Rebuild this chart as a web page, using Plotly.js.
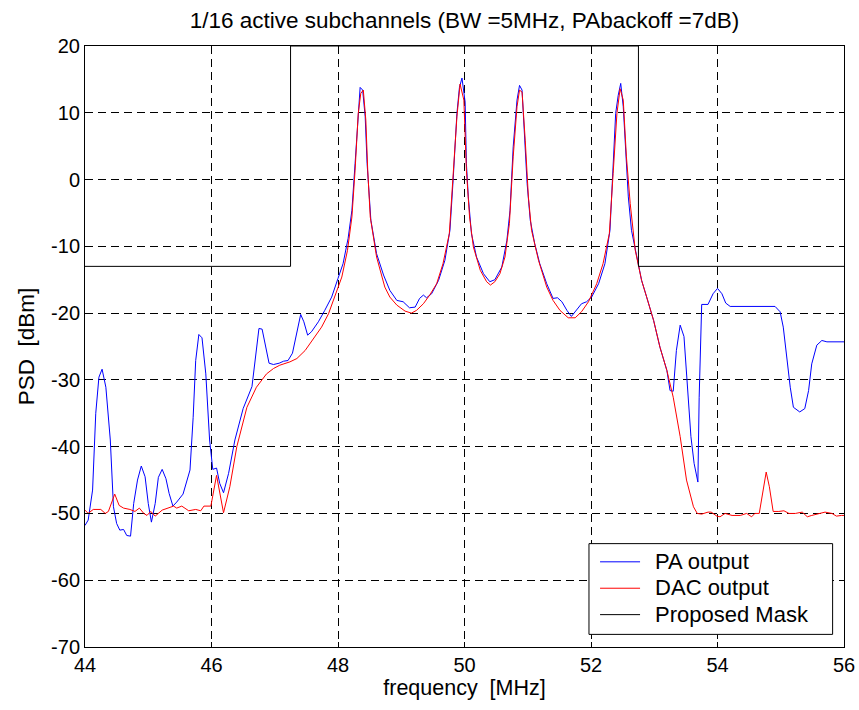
<!DOCTYPE html>
<html>
<head>
<meta charset="utf-8">
<script src="https://cdn.plot.ly/plotly-3.0.1.min.js"></script>
<style>
  html, body { margin: 0; padding: 0; background: #fff; }
  #chart { width: 859px; height: 710px; }
</style>
</head>
<body>
<div id="chart"></div>
<script>
// PA output spectrum (frequency in MHz, PSD in dBm)
const paFreq = [
  44.00, 44.05, 44.12, 44.17, 44.22, 44.27, 44.33, 44.40, 44.45, 44.50,
  44.55, 44.61, 44.66, 44.72, 44.77, 44.83, 44.89, 44.95, 45.00, 45.05,
  45.11, 45.16, 45.22, 45.28, 45.33, 45.39, 45.45, 45.55, 45.66, 45.71,
  45.75, 45.80, 45.85, 45.91, 45.97, 46.02, 46.08, 46.13, 46.19, 46.27,
  46.37, 46.50, 46.64, 46.70, 46.75, 46.80, 46.91, 46.98, 47.07, 47.14,
  47.21, 47.28, 47.35, 47.41, 47.46, 47.52, 47.58, 47.69, 47.79, 47.90,
  48.00, 48.08, 48.16, 48.22, 48.27, 48.31, 48.35, 48.39, 48.43, 48.46,
  48.49, 48.52, 48.61, 48.72, 48.82, 48.93, 49.03, 49.13, 49.22, 49.29,
  49.35, 49.40, 49.48, 49.59, 49.69, 49.77, 49.82, 49.88, 49.92, 49.96,
  50.01, 50.03, 50.06, 50.11, 50.19, 50.30, 50.40, 50.48, 50.59, 50.67,
  50.72, 50.77, 50.83, 50.87, 50.91, 50.94, 50.99, 51.04, 51.11, 51.19,
  51.30, 51.40, 51.47, 51.54, 51.62, 51.69, 51.76, 51.85, 51.93, 52.01,
  52.12, 52.22, 52.30, 52.35, 52.39, 52.43, 52.47, 52.51, 52.55, 52.59,
  52.64, 52.70, 52.75, 52.80, 52.88, 52.99, 53.09, 53.20, 53.25, 53.30,
  53.35, 53.41, 53.47, 53.52, 53.58, 53.63, 53.69, 53.71, 53.75, 53.85,
  53.93, 54.00, 54.07, 54.13, 54.20, 54.91, 54.99, 55.04, 55.09, 55.15,
  55.20, 55.30, 55.38, 55.44, 55.49, 55.57, 55.65, 55.73, 56.00
];
const paPsd = [
  -51.8, -51.0, -46.5, -35.0, -29.6, -28.4, -31.1, -39.0, -49.0, -51.5,
  -52.5, -52.4, -53.3, -53.4, -48.5, -45.0, -42.9, -44.5, -48.5, -51.3,
  -48.5, -44.6, -43.4, -44.8, -47.0, -48.9, -48.3, -47.1, -43.5, -35.6,
  -27.1, -23.2, -23.7, -29.1, -39.0, -43.4, -43.2, -45.5, -46.9, -44.0,
  -39.0, -34.3, -31.0, -26.1, -22.3, -22.4, -27.5, -27.7, -27.5, -27.2,
  -27.1, -26.0, -22.8, -20.2, -21.3, -23.3, -22.8, -21.3, -19.6, -17.6,
  -14.8, -12.6, -8.8, -4.6, 2.4, 8.4, 13.8, 13.4, 9.4, 2.4,
  -2.6, -6.1, -11.1, -14.3, -16.6, -18.1, -18.3, -19.2, -19.1, -17.8,
  -17.3, -17.7, -17.1, -15.1, -12.1, -7.6, -0.1, 9.9, 13.8, 15.2,
  11.6, 2.4, -2.6, -8.1, -11.6, -14.1, -15.3, -15.0, -13.1, -9.1,
  -4.6, 4.9, 11.9, 14.1, 13.4, 7.4, -0.6, -6.1, -9.6, -12.6,
  -15.6, -17.8, -17.7, -18.3, -19.6, -20.5, -19.6, -18.6, -18.3, -17.6,
  -15.6, -12.6, -7.6, 1.4, 9.9, 12.6, 14.4, 10.9, 3.4, -2.6,
  -7.6, -10.6, -13.1, -15.1, -17.6, -21.1, -25.1, -28.6, -31.6, -31.7,
  -25.6, -21.8, -23.5, -30.1, -38.5, -42.5, -45.3, -32.6, -18.7, -18.7,
  -17.1, -16.3, -17.1, -18.5, -19.0, -19.0, -19.8, -22.1, -26.6, -31.1,
  -34.1, -34.8, -34.3, -31.6, -27.6, -24.8, -24.1, -24.3, -24.3
];

// DAC output spectrum
const dacFreq = [
  44.00, 44.05, 44.13, 44.25, 44.32, 44.37, 44.47, 44.54, 44.61, 44.71,
  44.79, 44.86, 44.93, 44.98, 45.04, 45.11, 45.22, 45.32, 45.40, 45.45,
  45.53, 45.64, 45.75, 45.83, 45.88, 45.99, 46.08, 46.19, 46.29, 46.40,
  46.56, 46.71, 46.87, 46.98, 47.08, 47.24, 47.35, 47.48, 47.61, 47.74,
  47.85, 47.95, 48.06, 48.15, 48.22, 48.27, 48.32, 48.36, 48.40, 48.44,
  48.47, 48.51, 48.61, 48.74, 48.82, 48.93, 49.06, 49.16, 49.24, 49.35,
  49.45, 49.56, 49.66, 49.76, 49.82, 49.88, 49.93, 49.99, 50.03, 50.08,
  50.14, 50.25, 50.35, 50.41, 50.48, 50.56, 50.64, 50.71, 50.77, 50.83,
  50.87, 50.91, 50.96, 51.01, 51.06, 51.17, 51.30, 51.40, 51.51, 51.64,
  51.75, 51.85, 51.96, 52.09, 52.19, 52.29, 52.35, 52.41, 52.46, 52.51,
  52.56, 52.62, 52.70, 52.75, 52.80, 52.88, 52.99, 53.09, 53.20, 53.30,
  53.41, 53.51, 53.58, 53.62, 53.68, 53.75, 53.85, 53.90, 53.99, 54.04,
  54.12, 54.23, 54.36, 54.46, 54.54, 54.59, 54.66, 54.71, 54.77, 54.82,
  54.88, 54.97, 55.05, 55.13, 55.23, 55.34, 55.42, 55.49, 55.60, 55.70,
  55.81, 55.88, 55.96, 56.00
];
const dacPsd = [
  -49.5, -50.0, -49.4, -49.4, -50.0, -49.7, -47.1, -48.8, -49.2, -49.4,
  -49.7, -49.2, -50.0, -50.3, -49.7, -50.4, -49.5, -49.2, -48.9, -49.2,
  -48.9, -49.6, -49.4, -49.6, -48.9, -48.9, -44.3, -49.9, -46.0, -40.0,
  -34.1, -31.1, -29.1, -28.3, -27.8, -27.3, -26.8, -25.6, -23.8, -22.1,
  -20.1, -17.6, -14.6, -10.6, -5.6, 1.4, 9.9, 12.9, 13.4, 8.9,
  1.4, -5.6, -11.6, -16.1, -17.6, -18.8, -19.7, -20.0, -19.6, -18.6,
  -17.3, -15.6, -12.6, -8.1, 0.4, 9.4, 14.3, 11.9, 1.4, -5.6,
  -10.1, -13.6, -15.3, -15.8, -15.3, -14.1, -11.6, -6.6, 3.4, 10.9,
  13.4, 13.1, 5.9, -2.6, -7.6, -12.1, -16.1, -18.1, -19.6, -20.7,
  -20.7, -19.8, -18.3, -15.6, -12.6, -8.1, 0.9, 9.9, 13.6, 11.9,
  3.4, -3.6, -10.6, -13.1, -15.1, -17.6, -21.1, -25.1, -28.6, -32.6,
  -38.5, -45.0, -47.5, -49.0, -50.0, -50.1, -49.8, -49.8, -50.4, -50.5,
  -50.0, -50.3, -50.3, -50.0, -50.5, -50.0, -50.0, -47.0, -43.8, -46.0,
  -49.7, -49.7, -49.6, -50.0, -50.0, -49.8, -50.5, -50.3, -50.0, -49.8,
  -50.0, -50.4, -50.3, -50.3
];

// Proposed spectral mask
const maskFreq = [44, 47.25, 47.25, 52.75, 52.75, 56];
const maskPsd = [-13, -13, 20, 20, -13, -13];

// Axis ticks
const xTickVals = [44, 46, 48, 50, 52, 54, 56];
const xTickText = ['44', '46', '48', '50', '52', '54', '56'];
const yTickVals = [-70, -60, -50, -40, -30, -20, -10, 0, 10, 20];
const yTickText = ['-70', '-60', '-50', '-40', '-30', '-20', '-10', '0', '10', '20'];

// Series names
const seriesNames = ['PA output', 'DAC output', 'Proposed Mask'];

const FONT = 'Arial, "Liberation Sans", sans-serif';

// legend labels: larger glyphs on an 18px row pitch, with a little gap after the line sample
const legendLabel = name => '\u00A0\u00A0<span style="font-size:22px">' + name + '</span>';

const traces = [
  { x: paFreq, y: paPsd, type: 'scatter', mode: 'lines', name: legendLabel(seriesNames[0]),
    line: { color: '#0000ff', width: 1 } },
  { x: dacFreq, y: dacPsd, type: 'scatter', mode: 'lines', name: legendLabel(seriesNames[1]),
    line: { color: '#ff0000', width: 1 } },
  { x: maskFreq, y: maskPsd, type: 'scatter', mode: 'lines', name: legendLabel(seriesNames[2]),
    line: { color: '#000000', width: 1 } }
];

const axisCommon = {
  showline: true, linecolor: '#000', linewidth: 1, mirror: 'allticks',
  ticks: 'inside', ticklen: 5, tickcolor: '#000', tickwidth: 1,
  showgrid: true, gridcolor: '#000', gridwidth: 1, griddash: '8px,5px',
  zeroline: false, tickfont: { family: FONT, size: 20, color: '#000' },
  tickmode: 'array'
};

const layout = {
  width: 859, height: 710,
  margin: { l: 85, r: 15, t: 46, b: 63 },
  paper_bgcolor: '#fff', plot_bgcolor: '#fff',
  font: { family: FONT, color: '#000' },
  title: { text: '1/16 active subchannels (BW =5MHz, PAbackoff =7dB)',
           font: { family: FONT, size: 22.5, color: '#000' },
           x: 0.5, xref: 'paper', y: 1 - 20 / 710, yanchor: 'middle' },
  xaxis: Object.assign({}, axisCommon, {
    range: [44, 56], tickvals: xTickVals, ticktext: xTickText,
    title: { text: 'frequency  [MHz]', font: { family: FONT, size: 21.5, color: '#000' }, standoff: 4 }
  }),
  yaxis: Object.assign({}, axisCommon, {
    range: [-70, 20], tickvals: yTickVals, ticktext: yTickText,
    title: { text: 'PSD  [dBm]', font: { family: FONT, size: 22.5, color: '#000' }, standoff: 10 }
  }),
  // legend frame drawn as a paper-anchored box so its padding can be set freely
  shapes: [{
    type: 'rect', xref: 'paper', yref: 'paper', layer: 'above',
    x0: 0.664, x1: 0.985, y0: 0.021, y1: 0.172,
    line: { color: '#000', width: 1 }, fillcolor: '#fff'
  }],
  showlegend: true,
  legend: {
    x: 0.672, y: 0.172, xanchor: 'left', yanchor: 'top',
    bgcolor: 'rgba(0,0,0,0)', borderwidth: 0,
    font: { family: FONT, size: 18, color: '#000' },
    itemwidth: 40, tracegroupgap: 0
  }
};

Plotly.newPlot('chart', traces, layout, { displayModeBar: false, staticPlot: true });
</script>
</body>
</html>
